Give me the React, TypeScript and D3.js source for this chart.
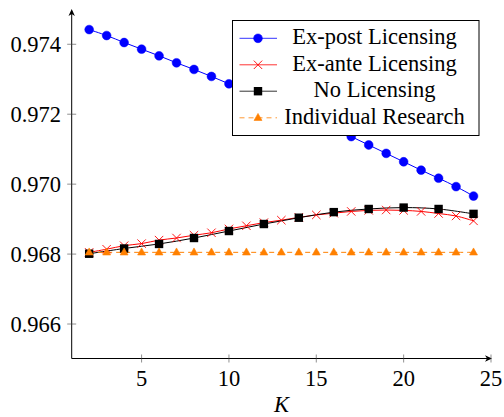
import React from "react";
import * as d3 from "d3";

const kAll = [2,3,4,5,6,7,8,9,10,11,12,13,14,15,16,17,18,19,20,21,22,23,24];
const kEven = [2,4,6,8,10,12,14,16,18,20,22,24];
const exPost = [0.97442,0.97425,0.97405,0.97386,0.97367,0.97347,0.97328,0.97308,0.97287,0.97266,0.97245,0.97223,0.97202,0.9718,0.97158,0.97136,0.97112,0.97088,0.97064,0.9704,0.97017,0.96993,0.96966];
const exAnte = [0.96805,0.96814,0.96824,0.9683,0.9684,0.96846,0.96854,0.96861,0.96872,0.96881,0.9689,0.96897,0.96905,0.96912,0.96917,0.96922,0.96925,0.96926,0.96925,0.96922,0.96916,0.96909,0.96895];
const noLic = [0.96801,0.96816,0.96829,0.96846,0.96866,0.96886,0.96904,0.9692,0.96929,0.96933,0.96929,0.96915];
const indiv = kAll.map(() => 0.96805);
const xTicks = [5,10,15,20,25];
const yTicks = [0.966,0.968,0.970,0.972,0.974];
const legendLabels = ["Ex-post Licensing","Ex-ante Licensing","No Licensing","Individual Research"];

const W = 504, H = 417;

function Marker({ type, x, y }: { type: string; x: number; y: number }) {
  if (type === "circle") return <circle cx={x} cy={y} r={4.4} fill="#0000ff" stroke="#0000ff" strokeWidth={0.5} />;
  if (type === "x") {
    const s = 4.2;
    return <path d={`M${x-s},${y-s}L${x+s},${y+s}M${x-s},${y+s}L${x+s},${y-s}`} stroke="#ff0000" strokeWidth={0.9} fill="none" />;
  }
  if (type === "square") return <rect x={x-4.2} y={y-4.2} width={8.4} height={8.4} fill="#000" />;
  const s = 4.4;
  return <path d={`M${x},${y-s}L${x+s*0.9},${y+s*0.6}L${x-s*0.9},${y+s*0.6}Z`} fill="#ff8000" stroke="#ff8000" strokeWidth={0.6} />;
}

export default function App() {
  const x = d3.scaleLinear().domain([1, 25]).range([71.7, 491]);
  const y = d3.scaleLinear().domain([0.965, 0.975]).range([359, 9.3]);
  const line = d3.line<[number, number]>().x(d => x(d[0])).y(d => y(d[1])).curve(d3.curveCatmullRom);

  const series = [
    { ks: kAll, vs: exPost, color: "#0000ff", marker: "circle", dash: undefined as string | undefined },
    { ks: kAll, vs: exAnte, color: "#ff0000", marker: "x", dash: undefined },
    { ks: kEven, vs: noLic, color: "#000000", marker: "square", dash: undefined },
    { ks: kAll, vs: indiv, color: "#ff8000", marker: "tri", dash: "5,4" },
  ];

  const axY = 358.5, axX = 71.7;
  const lgX = 232.5, lgY = 20.5, lgW = 246.5, lgH = 115;
  const rowY = [38.3, 64.8, 91.2, 117.8];
  const rowBase = [44.3, 71, 97.4, 124];
  const xEnd = 492, yEnd = 9;

  const texts: React.ReactElement[] = [];
  xTicks.forEach(t => texts.push(
    <text key={"xt" + t} x={x(t)} y={385.5} textAnchor="middle" fontFamily="Liberation Serif" fontSize={22.5}>{String(t)}</text>
  ));
  yTicks.forEach(t => texts.push(
    <text key={"yt" + t} x={61} y={y(t) + 8} textAnchor="end" fontFamily="Liberation Serif" fontSize={22.5}>{t.toFixed(3)}</text>
  ));
  texts.push(<text key="klab" x={281.5} y={411.5} textAnchor="middle" fontFamily="Liberation Serif" fontSize={22.5} fontStyle="italic">K</text>);

  return (
    <svg width={W} height={H} style={{ position: "absolute", left: 0, top: 0, background: "#fff" }}>
      {series.map((s, i) => (
        <path key={"l" + i} d={line(s.ks.map((k, j) => [k, s.vs[j]]) as [number, number][]) || ""} fill="none" stroke={s.color} strokeWidth={1} strokeDasharray={s.dash} />
      ))}
      {series.map((s, i) => s.ks.map((k, j) => <Marker key={"m" + i + "-" + j} type={s.marker} x={x(k)} y={y(s.vs[j])} />))}
      <line x1={axX} y1={axY} x2={xEnd - 2} y2={axY} stroke="#000" strokeWidth={1} />
      <line x1={axX} y1={axY} x2={axX} y2={yEnd + 2} stroke="#000" strokeWidth={1} />
      <path d={`M${xEnd},${axY}L${xEnd - 7},${axY - 3.2}L${xEnd - 5},${axY}L${xEnd - 7},${axY + 3.2}Z`} fill="#000" />
      <path d={`M${axX},${yEnd}L${axX - 3.2},${yEnd + 7}L${axX},${yEnd + 5}L${axX + 3.2},${yEnd + 7}Z`} fill="#000" />
      {xTicks.map(t => <line key={"xk" + t} x1={x(t)} x2={x(t)} y1={axY - 4} y2={axY + 4} stroke="#444" strokeWidth={0.6} />)}
      {yTicks.map(t => <line key={"yk" + t} x1={axX - 4.5} x2={axX + 4.5} y1={y(t)} y2={y(t)} stroke="#444" strokeWidth={0.6} />)}
      {texts}
      <rect x={lgX} y={lgY} width={lgW} height={lgH} fill="#fff" stroke="#000" strokeWidth={1} />
      {series.map((s, i) => (
        <line key={"ll" + i} x1={239.5} x2={277} y1={rowY[i]} y2={rowY[i]} stroke={s.color} strokeWidth={1} strokeDasharray={s.dash ? "5,4" : undefined} strokeOpacity={0.8} />
      ))}
      {series.map((s, i) => <Marker key={"lm" + i} type={s.marker} x={258} y={rowY[i]} />)}
      {legendLabels.map((lab, i) => (
        <text key={"lt" + i} x={374.5} y={rowBase[i]} textAnchor="middle" fontFamily="Liberation Serif" fontSize={22.5}>{lab}</text>
      ))}
    </svg>
  );
}
